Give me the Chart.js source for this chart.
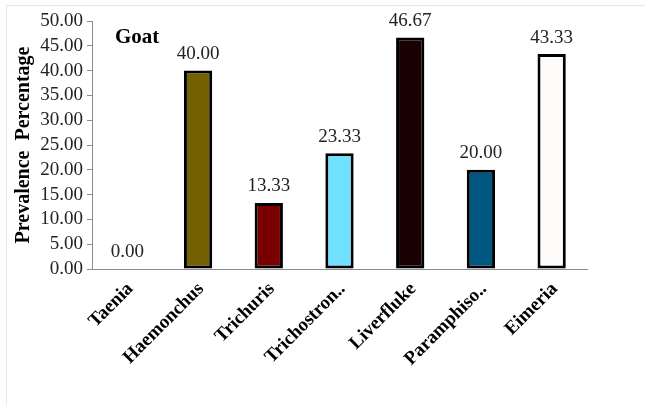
<!DOCTYPE html>
<html>
<head>
<meta charset="utf-8">
<script src="https://cdn.jsdelivr.net/npm/chart.js@4.4.0/dist/chart.umd.min.js"></script>
<style>
  html, body { margin: 0; padding: 0; background: #ffffff; }
  #wrap { width: 645px; height: 405px; position: relative; }
</style>
</head>
<body>
<div id="wrap"><canvas id="c" width="645" height="405"></canvas></div>
<script>
// Parasite prevalence in goats (%)
const categories = ['Taenia', 'Haemonchus', 'Trichuris', 'Trichostron..', 'Liverfluke', 'Paramphiso..', 'Eimeria'];
const prevalence = [0.00, 40.00, 13.33, 23.33, 46.67, 20.00, 43.33];
const barColors = ['#ffffff', '#736000', '#780000', '#70e0ff', '#1a0000', '#005880', '#fdfcfb'];
const yTicks = [0, 5, 10, 15, 20, 25, 30, 35, 40, 45, 50];
const panelTitle = 'Goat';
const yTitle = 'Prevalence  Percentage';

const SERIF = '"Liberation Serif", "Times New Roman", serif';

// light frame around the chart panel
const framePlugin = {
  id: 'frame',
  beforeDraw(chart) {
    const ctx = chart.ctx;
    ctx.save();
    ctx.strokeStyle = '#e6e6e6';
    ctx.lineWidth = 1;
    ctx.strokeRect(6.5, 5.5, 700, 500);
    ctx.restore();
  }
};

// value printed above each bar
const valueLabels = {
  id: 'valueLabels',
  afterDatasetsDraw(chart) {
    const ctx = chart.ctx;
    const meta = chart.getDatasetMeta(0);
    ctx.save();
    ctx.font = '19px ' + SERIF;
    ctx.fillStyle = '#222222';
    ctx.textAlign = 'center';
    ctx.textBaseline = 'bottom';
    meta.data.forEach((bar, i) => {
      ctx.fillText(prevalence[i].toFixed(2), bar.x, bar.y - 7);
    });
    ctx.restore();
  }
};

// panel caption in the upper-left of the plot
const captionPlugin = {
  id: 'caption',
  afterDraw(chart) {
    const ctx = chart.ctx;
    ctx.save();
    ctx.font = 'bold 21px ' + SERIF;
    ctx.fillStyle = '#000000';
    ctx.textAlign = 'left';
    ctx.textBaseline = 'alphabetic';
    ctx.fillText(panelTitle, chart.chartArea.left + 23, 43);
    ctx.restore();
  }
};

new Chart(document.getElementById('c'), {
  type: 'bar',
  data: {
    labels: categories,
    datasets: [{
      data: prevalence,
      backgroundColor: barColors,
      borderColor: '#000000',
      borderWidth: 3,
      borderSkipped: false,
      barPercentage: 0.4,
      categoryPercentage: 1.0
    }]
  },
  options: {
    responsive: false,
    animation: false,
    devicePixelRatio: 1,
    layout: { padding: { top: 21, right: 58, left: 0, bottom: 0 } },
    plugins: {
      legend: { display: false },
      tooltip: { enabled: false }
    },
    scales: {
      x: {
        grid: { display: false, drawTicks: false },
        border: { display: true, color: '#8c8c8c', width: 1 },
        ticks: {
          color: '#000000',
          font: { family: SERIF, size: 19, weight: 'bold' },
          minRotation: 45,
          maxRotation: 45,
          autoSkip: false,
          labelOffset: 3,
          padding: 9
        },
        afterFit(scale) { scale.height = 136; }
      },
      y: {
        min: 0,
        max: 50,
        afterBuildTicks(scale) { scale.ticks = yTicks.map(v => ({ value: v })); },
        grid: { drawOnChartArea: false, drawTicks: true, tickLength: 5, color: '#8c8c8c' },
        border: { display: true, color: '#8c8c8c', width: 1 },
        ticks: {
          color: '#222222',
          font: { family: SERIF, size: 19 },
          padding: 4,
          autoSkip: false,
          callback: v => Number(v).toFixed(2)
        },
        title: {
          display: true,
          text: yTitle,
          color: '#000000',
          font: { family: SERIF, size: 20, weight: 'bold' },
          padding: { top: 12, bottom: 0 }
        },
        afterFit(scale) { scale.width = 92; }
      }
    }
  },
  plugins: [framePlugin, valueLabels, captionPlugin]
});
</script>
</body>
</html>
